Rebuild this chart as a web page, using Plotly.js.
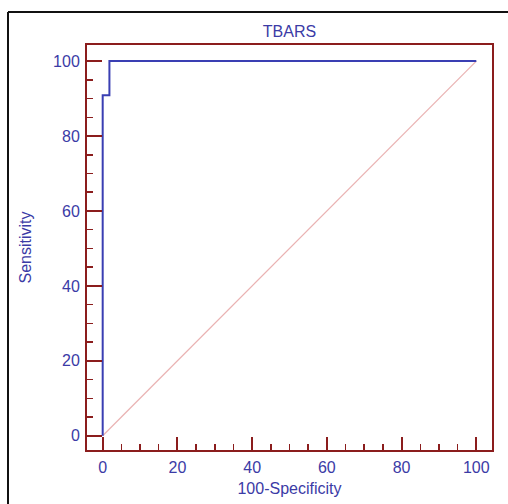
<!DOCTYPE html>
<html>
<head>
<meta charset="utf-8">
<script src="https://cdn.plot.ly/plotly-3.0.1.min.js"></script>
<style>
html,body{margin:0;padding:0;background:#fff;}
#chart{width:508px;height:504px;}
</style>
</head>
<body>
<div id="chart"></div>
<script>
// ROC curve data (100-Specificity vs Sensitivity)
var rocX = [0, 0, 1.8, 1.8, 100];
var rocY = [0, 90.9, 90.9, 100, 100];
// Reference diagonal
var diagX = [0, 100];
var diagY = [0, 100];
var tickVals = [0, 20, 40, 60, 80, 100];
var tickText = ['0', '20', '40', '60', '80', '100'];
var chartTitle = 'TBARS';
var xTitle = '100-Specificity';
var yTitle = 'Sensitivity';

var maroon = '#8b1d1d';
var blueTxt = '#3b3ba6';
var fontFam = 'Liberation Sans, Arial, sans-serif';

var traces = [
  {x: diagX, y: diagY, mode: 'lines', type: 'scatter',
   line: {color: '#eab2b2', width: 1.2}, hoverinfo: 'skip', showlegend: false},
  {x: rocX, y: rocY, mode: 'lines', type: 'scatter',
   line: {color: '#3a3fb3', width: 2}, showlegend: false}
];

var L = 87, R = 16, T = 45, B = 54, W = 508, H = 504;
var pw = W - L - R, ph = H - T - B;
function px2x(p){ return (p - L) / pw; }
function py2y(p){ return (H - B - p) / ph; }

var layout = {
  width: W, height: H,
  margin: {l: L, r: R, t: T, b: B, pad: 0},
  paper_bgcolor: '#ffffff', plot_bgcolor: '#ffffff',
  font: {family: fontFam, color: blueTxt, size: 16},
  title: {text: chartTitle, font: {size: 16, color: blueTxt, family: fontFam},
          x: 0.5, xref: 'paper', xanchor: 'center', y: 1 - 31 / H, yanchor: 'middle'},
  xaxis: {
    range: [-4.2, 104.2], tickvals: tickVals, ticktext: tickText,
    ticks: 'inside', ticklen: 13, tickwidth: 2, tickcolor: maroon,
    minor: {dtick: 5, ticks: 'inside', ticklen: 6, tickwidth: 1.5, tickcolor: maroon},
    showline: true, linecolor: maroon, linewidth: 2, mirror: true,
    showgrid: false, zeroline: false,
    tickfont: {size: 16, color: blueTxt, family: fontFam},
    ticklabelstandoff: 2,
    title: {text: xTitle, font: {size: 16, color: blueTxt, family: fontFam}, standoff: 8}
  },
  yaxis: {
    range: [-3.8, 104.3], tickvals: tickVals, ticktext: tickText,
    ticks: 'inside', ticklen: 15, tickwidth: 2, tickcolor: maroon,
    minor: {dtick: 5, ticks: 'inside', ticklen: 6, tickwidth: 1.5, tickcolor: maroon},
    showline: true, linecolor: maroon, linewidth: 2, mirror: true,
    showgrid: false, zeroline: false,
    tickfont: {size: 16, color: blueTxt, family: fontFam},
    ticklabelstandoff: 2,
    title: {text: yTitle, font: {size: 16, color: blueTxt, family: fontFam}, standoff: 17}
  },
  shapes: [
    {type: 'line', xref: 'paper', yref: 'paper', x0: px2x(8), x1: px2x(520), y0: py2y(12), y1: py2y(12),
     line: {color: '#111', width: 2}},
    {type: 'line', xref: 'paper', yref: 'paper', x0: px2x(8), x1: px2x(8), y0: py2y(12), y1: py2y(520),
     line: {color: '#111', width: 2}}
  ]
};

Plotly.newPlot('chart', traces, layout, {displayModeBar: false, staticPlot: true});
</script>
</body>
</html>
